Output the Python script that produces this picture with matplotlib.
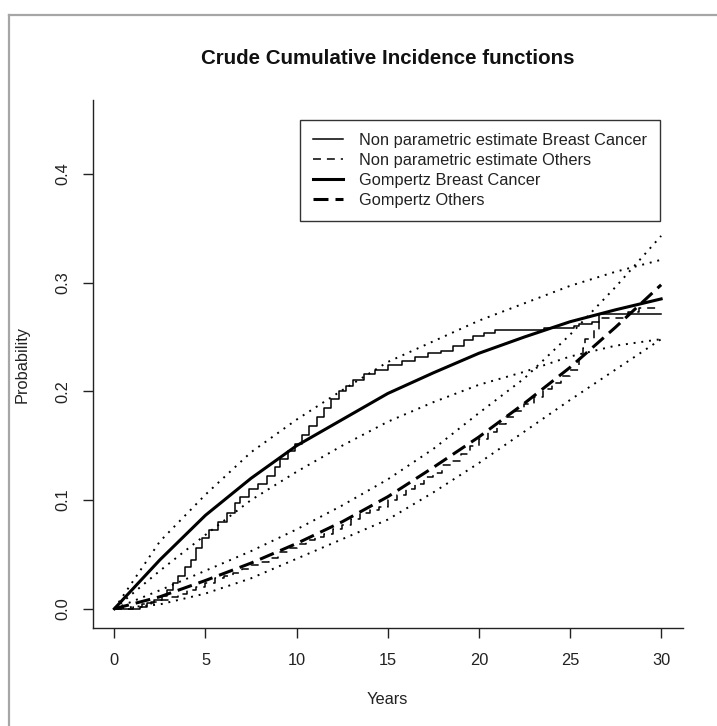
import matplotlib
matplotlib.use("Agg")
import matplotlib.pyplot as plt
from matplotlib.lines import Line2D

plt.rcParams['font.family'] = ['Liberation Sans', 'DejaVu Sans']

# ---------------- data ----------------
title = "Crude Cumulative Incidence functions"
xlabel = "Years"
ylabel = "Probability"
x_ticks = [0, 5, 10, 15, 20, 25, 30]
y_ticks = [0.0, 0.1, 0.2, 0.3, 0.4]
y_ticklabels = ["0.0", "0.1", "0.2", "0.3", "0.4"]
legend_labels = ["Non parametric estimate Breast Cancer",
                 "Non parametric estimate Others",
                 "Gompertz Breast Cancer",
                 "Gompertz Others"]

# Gompertz model curves (evaluated on a grid of years)
grid_years = [0, 2.5, 5, 7.5, 10, 12.5, 15, 17.5, 20, 22.5, 25, 27.5, 30]
gomp_bc = [0, 0.045, 0.086, 0.120, 0.150, 0.174, 0.198, 0.217, 0.235, 0.250, 0.264, 0.275, 0.285]
gomp_bc_upper = [0, 0.062, 0.105, 0.144, 0.174, 0.201, 0.227, 0.246, 0.265, 0.281, 0.297, 0.310, 0.321]
gomp_bc_lower = [0, 0.035, 0.068, 0.100, 0.126, 0.150, 0.172, 0.190, 0.206, 0.218, 0.232, 0.242, 0.248]
gomp_oth = [0, 0.011, 0.026, 0.042, 0.060, 0.080, 0.103, 0.130, 0.158, 0.189, 0.222, 0.259, 0.298]
gomp_oth_upper = [0, 0.017, 0.035, 0.053, 0.073, 0.095, 0.119, 0.147, 0.180, 0.212, 0.252, 0.296, 0.343]
gomp_oth_lower = [0, 0.004, 0.014, 0.028, 0.046, 0.064, 0.082, 0.107, 0.134, 0.163, 0.192, 0.220, 0.248]

# Non parametric (step) estimates
np_bc_time = [0, 1.4, 1.8, 2.2, 2.6, 2.9, 3.2, 3.5, 3.9, 4.2, 4.5, 4.8, 5.2, 5.7, 6.2, 6.6,
              6.9, 7.4, 7.9, 8.4, 8.8, 9.1, 9.5, 9.9, 10.3, 10.7, 11.1, 11.5, 11.9, 12.3,
              12.7, 13.1, 13.7, 14.3, 15.0, 15.8, 16.5, 17.2, 17.9, 18.6, 19.2, 19.7, 20.3,
              20.9, 23.6, 25.2, 25.5, 26.2, 26.6, 30.0]
np_bc_cif = [0, 0.002, 0.005, 0.008, 0.012, 0.017, 0.024, 0.030, 0.038, 0.045, 0.056, 0.065,
             0.072, 0.080, 0.088, 0.097, 0.103, 0.110, 0.115, 0.122, 0.130, 0.138, 0.145,
             0.152, 0.160, 0.168, 0.176, 0.185, 0.193, 0.200, 0.205, 0.210, 0.216, 0.220,
             0.224, 0.228, 0.232, 0.235, 0.237, 0.242, 0.247, 0.251, 0.254, 0.256, 0.258,
             0.260, 0.262, 0.264, 0.271, 0.271]
np_oth_time = [0, 1.0, 1.5, 2.0, 2.5, 3.0, 3.5, 4.0, 4.5, 5.0, 5.5, 6.0, 6.5, 7.0, 7.5, 8.0,
               8.5, 9.0, 9.5, 10.0, 10.5, 11.0, 11.5, 12.0, 12.5, 13.0, 13.5, 14.0, 14.5,
               15.0, 15.5, 16.0, 16.5, 17.0, 17.5, 18.0, 18.5, 19.0, 19.5, 20.0, 20.5, 21.0,
               21.5, 22.0, 22.5, 23.0, 23.5, 24.0, 24.5, 25.0, 25.5, 25.7, 25.8, 26.3, 26.6,
               28.2, 28.8, 30.0]
np_oth_cif = [0, 0.002, 0.004, 0.006, 0.008, 0.011, 0.014, 0.017, 0.020, 0.024, 0.028, 0.030,
              0.033, 0.037, 0.040, 0.043, 0.047, 0.052, 0.056, 0.060, 0.063, 0.066, 0.069,
              0.073, 0.077, 0.083, 0.088, 0.091, 0.094, 0.100, 0.105, 0.110, 0.115, 0.121,
              0.125, 0.132, 0.136, 0.142, 0.150, 0.156, 0.163, 0.170, 0.176, 0.182, 0.188,
              0.195, 0.202, 0.208, 0.214, 0.220, 0.230, 0.240, 0.248, 0.256, 0.267, 0.273,
              0.277, 0.277]

# ---------------- figure ----------------
W, H, DPI = 717, 726, 100
fig = plt.figure(figsize=(W / DPI, H / DPI), dpi=DPI)
fig.patch.set_facecolor("white")

ax_l, ax_r, ax_t, ax_b = 92.5, 683, 100, 628.3
ax = fig.add_axes([ax_l / W, 1 - ax_b / H, (ax_r - ax_l) / W, (ax_b - ax_t) / H])

lw_thin = 1.1
lw_thick = 2.2
lw_dot = 1.4

# confidence bands (dotted)
for band in (gomp_bc_upper, gomp_bc_lower, gomp_oth_upper, gomp_oth_lower):
    ax.plot(grid_years, band, color="black", lw=lw_dot, linestyle=(0, (1, 3)),
            dash_capstyle="butt")

l1, = ax.plot(np_bc_time, np_bc_cif, color="black", lw=lw_thin, drawstyle="steps-post")
l2, = ax.plot(np_oth_time, np_oth_cif, color="black", lw=lw_thin, drawstyle="steps-post",
              linestyle=(0, (5.2, 3.9)))
l3, = ax.plot(grid_years, gomp_bc, color="black", lw=lw_thick)
l4, = ax.plot(grid_years, gomp_oth, color="black", lw=lw_thick, linestyle=(0, (4.9, 2.3)))

ax.set_xlim(-0.04 * 30, 30 * 1.04)
ax.set_ylim(-0.04 * 0.45, 0.45 * 1.04)

for s in ("top", "right"):
    ax.spines[s].set_visible(False)
for s in ("left", "bottom"):
    ax.spines[s].set_color("#222222")
    ax.spines[s].set_linewidth(1.0)

ax.set_xticks(x_ticks)
ax.set_xticklabels([str(v) for v in x_ticks])
ax.set_yticks(y_ticks)
ax.set_yticklabels(y_ticklabels, rotation=90, va="center")
ax.tick_params(axis="both", direction="out", length=7, width=1.0, color="#222222",
               labelsize=11.8, labelcolor="#222222")
ax.tick_params(axis="x", pad=11)
ax.tick_params(axis="y", pad=9)

fig.text(((ax_l + ax_r) / 2) / W, 1 - 59 / H, title, ha="center", va="center",
         fontsize=14.8, fontweight="bold", color="#111111")
fig.text(((ax_l + ax_r) / 2) / W, 1 - 700 / H, xlabel, ha="center", va="center",
         fontsize=11.8, color="#222222")
fig.text(22 / W, 1 - ((ax_t + ax_b) / 2) / H, ylabel, ha="center", va="center",
         rotation=90, fontsize=11.8, color="#222222")

leg = ax.legend([l1, l2, l3, l4], legend_labels, loc="upper right",
                bbox_to_anchor=((660 - ax_l) / (ax_r - ax_l), (ax_b - 120) / (ax_b - ax_t)),
                bbox_transform=ax.transAxes, borderaxespad=0, fontsize=11.8,
                frameon=True, fancybox=False, framealpha=1, edgecolor="#333333",
                handlelength=1.8, handletextpad=1.0, labelspacing=0.3, borderpad=0.8)
leg.get_frame().set_linewidth(1.0)
for t in leg.get_texts():
    t.set_color("#222222")

# outer grey frame (top and left edges)
fig.add_artist(Line2D([8.5 / W, 8.5 / W], [0, 1 - 14.5 / H], transform=fig.transFigure,
                      color="#a6a6a6", lw=1.6))
fig.add_artist(Line2D([8.5 / W, 1], [1 - 14.5 / H, 1 - 14.5 / H], transform=fig.transFigure,
                      color="#a6a6a6", lw=1.6))

fig.savefig("out.png", dpi=DPI, facecolor="white")
